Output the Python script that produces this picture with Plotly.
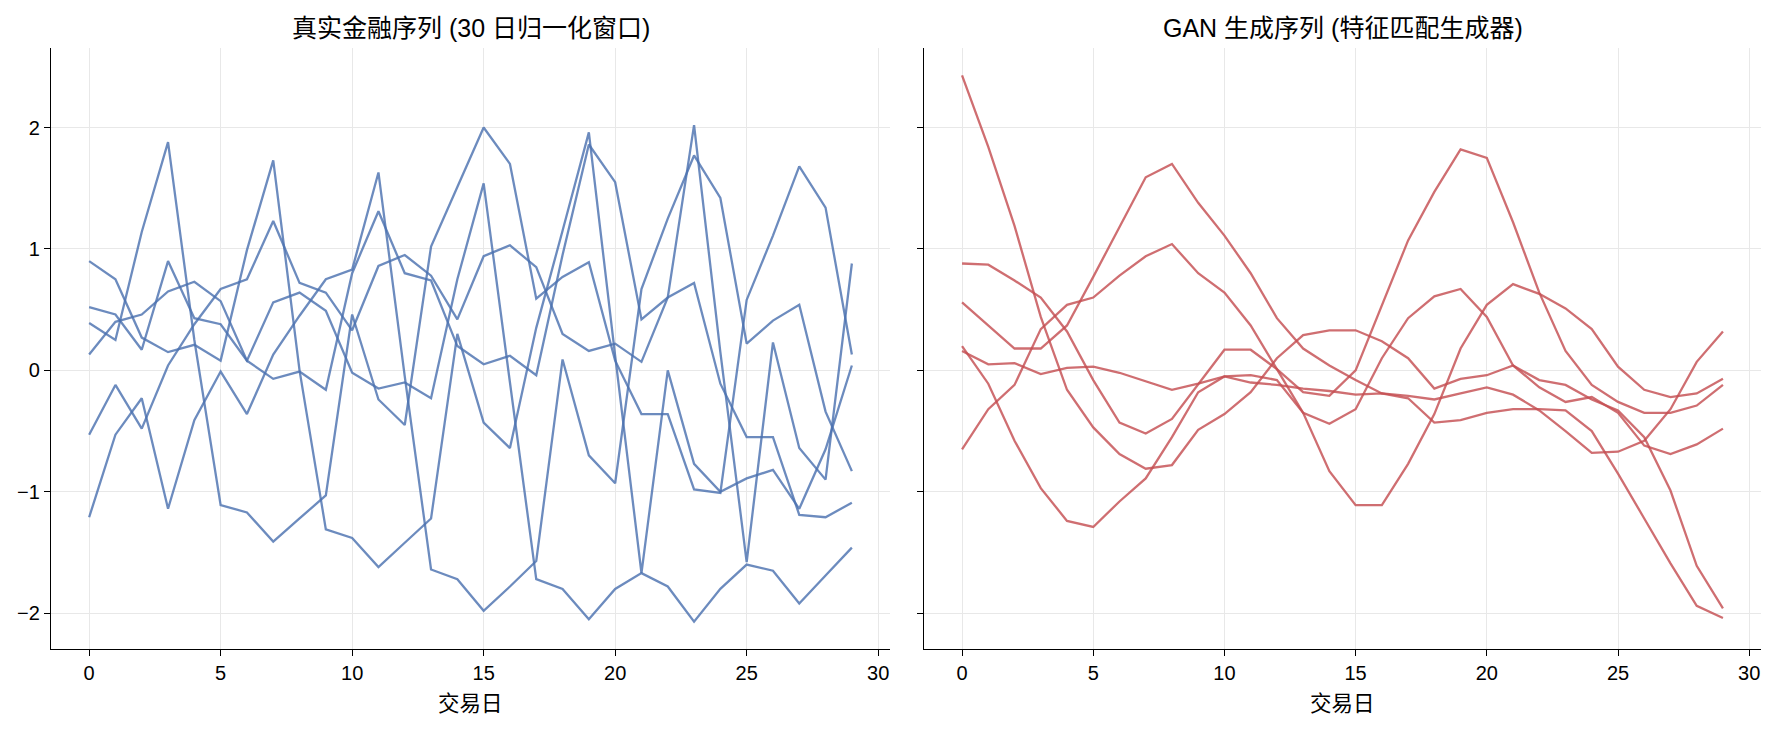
import plotly.graph_objects as go

days = list(range(30))

real_series = [
    [0.90, 0.75, 0.27, 0.15, 0.21, 0.08, 0.99, 1.73, 0.00, -1.31, -1.38, -1.62, -1.42, -1.22, 0.30, -0.43, -0.64, 0.35, 1.15, 1.96, 0.12, -1.67, 0.00, -0.77, -1.00, -0.89, -0.82, -1.14, -0.65, 0.04],
    [0.52, 0.46, 0.17, 0.90, 0.43, 0.38, 0.08, 0.56, 0.64, 0.49, -0.02, -0.15, -0.10, -0.23, 0.75, 1.54, -0.10, -1.72, -1.80, -2.05, -1.80, -1.67, -1.78, -2.07, -1.80, -1.60, -1.65, -1.92, -1.69, -1.46],
    [0.39, 0.25, 1.14, 1.88, 0.25, -1.11, -1.17, -1.41, -1.22, -1.03, 0.46, -0.24, -0.45, 1.02, 1.51, 2.00, 1.70, 0.59, 0.77, 0.89, 0.08, -0.36, -0.36, -0.98, -1.01, 0.58, 1.11, 1.68, 1.34, 0.13],
    [0.13, 0.40, 0.46, 0.65, 0.73, 0.57, 0.08, -0.07, -0.01, -0.16, 0.80, 1.31, 0.80, 0.74, 0.20, 0.05, 0.12, -0.04, 0.95, 1.86, 1.55, 0.42, 0.60, 0.72, -0.11, -0.55, -0.55, -1.19, -1.21, -1.09],
    [-0.53, -0.12, -0.48, 0.04, 0.38, 0.67, 0.75, 1.23, 0.72, 0.64, 0.33, 0.86, 0.95, 0.78, 0.42, 0.94, 1.03, 0.85, 0.30, 0.16, 0.22, 0.07, 0.60, 2.02, 0.15, -1.58, 0.23, -0.64, -0.90, 0.88],
    [-1.21, -0.53, -0.23, -1.14, -0.41, -0.01, -0.36, 0.13, 0.45, 0.75, 0.83, 1.63, -0.05, -1.64, -1.72, -1.98, -1.78, -1.57, 0.09, -0.70, -0.93, 0.67, 1.25, 1.77, 1.42, 0.22, 0.41, 0.54, -0.34, -0.83],
]

gan_series = [
    [2.43, 1.84, 1.19, 0.44, -0.16, -0.47, -0.69, -0.81, -0.78, -0.49, -0.36, -0.18, 0.10, 0.29, 0.33, 0.33, 0.24, 0.10, -0.15, -0.07, -0.04, 0.04, -0.08, -0.12, -0.24, -0.33, -0.55, -0.99, -1.61, -1.96],
    [0.88, 0.87, 0.74, 0.60, 0.32, -0.08, -0.43, -0.52, -0.40, -0.12, 0.17, 0.17, 0.01, -0.18, -0.21, 0.00, 0.54, 1.07, 1.47, 1.82, 1.75, 1.22, 0.64, 0.16, -0.12, -0.26, -0.35, -0.35, -0.29, -0.12],
    [0.56, 0.37, 0.18, 0.18, 0.37, 0.77, 1.18, 1.59, 1.70, 1.38, 1.11, 0.80, 0.43, 0.18, 0.04, -0.08, -0.19, -0.23, -0.43, -0.41, -0.35, -0.32, -0.32, -0.33, -0.50, -0.85, -1.22, -1.59, -1.94, -2.04],
    [-0.65, -0.32, -0.12, 0.34, 0.54, 0.60, 0.78, 0.94, 1.04, 0.80, 0.64, 0.37, 0.01, -0.35, -0.44, -0.32, 0.10, 0.43, 0.61, 0.67, 0.44, 0.04, -0.14, -0.26, -0.22, -0.35, -0.62, -0.69, -0.61, -0.48],
    [0.20, -0.11, -0.58, -0.97, -1.24, -1.29, -1.08, -0.89, -0.55, -0.18, -0.05, -0.04, -0.08, -0.35, -0.83, -1.11, -1.11, -0.77, -0.36, 0.18, 0.54, 0.71, 0.63, 0.51, 0.34, 0.03, -0.16, -0.22, -0.19, -0.07],
    [0.16, 0.05, 0.06, -0.03, 0.02, 0.03, -0.02, -0.09, -0.16, -0.11, -0.05, -0.10, -0.12, -0.15, -0.17, -0.20, -0.19, -0.21, -0.24, -0.19, -0.14, -0.20, -0.33, -0.50, -0.68, -0.67, -0.58, -0.32, 0.07, 0.32],
]

titles = ["真实金融序列 (30 日归一化窗口)", "GAN 生成序列 (特征匹配生成器)"]
x_label = "交易日"
x_ticks = [0, 5, 10, 15, 20, 25, 30]
y_ticks = [-2, -1, 0, 1, 2]

BLUE = "rgba(76,114,176,0.82)"
RED = "rgba(196,78,82,0.82)"
FONT = "Liberation Sans, Arial, Noto Sans CJK SC, sans-serif"

fig = go.Figure()
for s in real_series:
    fig.add_trace(go.Scatter(x=days, y=s, mode="lines", line=dict(color=BLUE, width=2.3),
                             xaxis="x", yaxis="y", showlegend=False))
for s in gan_series:
    fig.add_trace(go.Scatter(x=days, y=s, mode="lines", line=dict(color=RED, width=2.3),
                             xaxis="x2", yaxis="y2", showlegend=False))

W, H = 1778, 732
ml, mr, mt, mb = 51, 17, 48, 83
pw = W - ml - mr
ph = H - mt - mb
d1 = [0, (890 - ml) / pw]
d2 = [(924 - ml) / pw, 1]

axis_common = dict(
    showline=True, linecolor="black", linewidth=1.3, mirror=False,
    ticks="outside", ticklen=6, tickwidth=1.3, tickcolor="black",
    showgrid=True, gridcolor="#e8e8e8", gridwidth=1, zeroline=False,
    tickfont=dict(family=FONT, size=20, color="black"),
)
xr = [-1.45, 30.45]
yr = [-2.295, 2.655]

fig.update_layout(
    width=W, height=H,
    margin=dict(l=ml, r=mr, t=mt, b=mb),
    paper_bgcolor="white", plot_bgcolor="white",
    font=dict(family=FONT, size=20, color="black"),
    xaxis=dict(domain=d1, range=xr, tickvals=x_ticks, anchor="y", **axis_common),
    yaxis=dict(domain=[0, 1], range=yr, tickvals=y_ticks, anchor="x", **axis_common),
    xaxis2=dict(domain=d2, range=xr, tickvals=x_ticks, anchor="y2", **axis_common),
    yaxis2=dict(domain=[0, 1], range=yr, tickvals=y_ticks, anchor="x2", showticklabels=False,
                **axis_common),
)

anns = []
for dom, t in zip([d1, d2], titles):
    cx = (dom[0] + dom[1]) / 2
    anns.append(dict(x=cx, y=1 + (48 - 28) / ph, xref="paper", yref="paper", text=t,
                     showarrow=False, xanchor="center", yanchor="middle",
                     font=dict(family=FONT, size=25, color="black")))
    anns.append(dict(x=cx, y=-(704 - 649) / ph, xref="paper", yref="paper", text=x_label,
                     showarrow=False, xanchor="center", yanchor="middle",
                     font=dict(family=FONT, size=21.5, color="black")))
fig.update_layout(annotations=anns)

fig.write_html("out.html")
